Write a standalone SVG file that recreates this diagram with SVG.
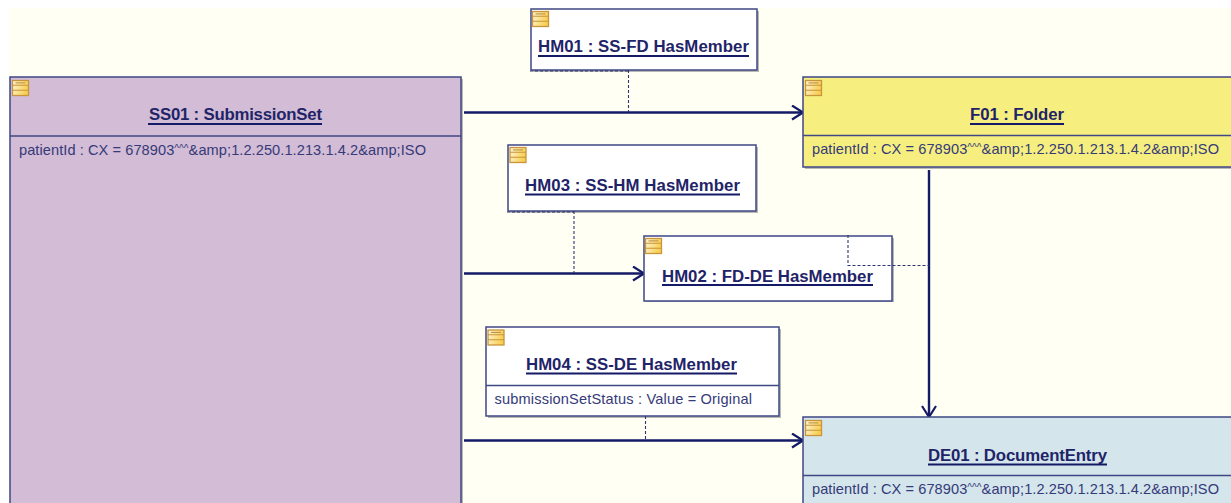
<svg xmlns="http://www.w3.org/2000/svg" width="1231" height="503" viewBox="0 0 1231 503">
<style>
.box{stroke:#3f4785;stroke-width:1.5}
.shadow{fill:#b9b9b4}
.div{stroke:#3f4785;stroke-width:1.3}
.t{font:bold 16.800px "Liberation Sans",Arial,sans-serif;fill:#1f2468;text-anchor:middle}
.a{font:14.600px "Liberation Sans",Arial,sans-serif;fill:#353a78}
.c{font-size:10px}
.u{stroke:#141a66;stroke-width:2}
.solid{fill:none;stroke:#141a66;stroke-width:2.4}
.dash{fill:none;stroke:#2e3573;stroke-width:1.1;stroke-dasharray:3 2}
</style>
<defs>
<marker id="arrow" viewBox="0 0 14 16" refX="13" refY="8" markerWidth="14" markerHeight="16" markerUnits="userSpaceOnUse" orient="auto">
<path d="M2 1L13 8L2 15" fill="none" stroke="#141a66" stroke-width="2.2"/>
</marker>
<linearGradient id="ig" x1="0" y1="0" x2="1" y2="0.3"><stop offset="0" stop-color="#fdf5d8"/><stop offset="1" stop-color="#f8cf50"/></linearGradient>
<g id="icon">
<rect x="0" y="0" width="16" height="15" fill="url(#ig)" stroke="#c8953c" stroke-width="1.3"/>
<path d="M0 4.800H16M0 9.800H16" stroke="#c8953c" stroke-width="1.1"/>
<path d="M3 2.400H13" stroke="#b98a3a" stroke-width="1"/>
</g>
</defs>
<rect width="1231" height="503" fill="#fff"/>
<rect x="9" y="8" width="1222" height="495" fill="#fffff3"/>

<g id="connectors">
<path class="solid" d="M464 112.500H803" marker-end="url(#arrow)"/>
<path class="solid" d="M464 273.500H644" marker-end="url(#arrow)"/>
<path class="solid" d="M464 440.500H803" marker-end="url(#arrow)"/>
<path class="solid" d="M929 170V417" marker-end="url(#arrow)"/>
</g>

<g id="SS01">
<rect class="shadow" x="12" y="79" width="451" height="426"/>
<rect class="box" x="10" y="77" width="451" height="428" fill="#d3bcd6"/>
<path class="div" d="M10 136H461"/>
<use href="#icon" x="12.500" y="80.500"/>
<text class="t" x="235.500" y="120" textLength="173">SS01 : SubmissionSet</text>
<path class="u" d="M148 124H322"/>
<text class="a" x="19" y="155" textLength="407">patientId : CX = 678903<tspan class="c" dy="-3">^^^</tspan><tspan dy="3">&amp;amp;1.2.250.1.213.1.4.2&amp;amp;ISO</tspan></text>
</g>

<g id="HM01">
<rect class="shadow" x="533" y="11" width="226" height="61"/>
<rect class="box" x="531" y="9" width="226" height="61" fill="#fff"/>
<use href="#icon" x="532.500" y="11.500"/>
<text class="t" x="643.500" y="52" textLength="211">HM01 : SS-FD HasMember</text>
<path class="u" d="M538 56H749"/>
</g>

<g id="F01">
<rect class="shadow" x="805" y="79" width="428" height="90"/>
<rect class="box" x="803" y="77" width="430" height="90" fill="#f6ef80"/>
<path class="div" d="M803 135.500H1231"/>
<use href="#icon" x="805.500" y="80.500"/>
<text class="t" x="1017" y="120" textLength="94">F01 : Folder</text>
<path class="u" d="M970 124H1064"/>
<text class="a" x="812" y="154" textLength="407">patientId : CX = 678903<tspan class="c" dy="-3">^^^</tspan><tspan dy="3">&amp;amp;1.2.250.1.213.1.4.2&amp;amp;ISO</tspan></text>
</g>

<g id="HM03">
<rect class="shadow" x="510" y="147" width="248" height="66"/>
<rect class="box" x="508" y="145" width="248" height="66" fill="#fff"/>
<use href="#icon" x="510" y="147.500"/>
<text class="t" x="632.500" y="191" textLength="215">HM03 : SS-HM HasMember</text>
<path class="u" d="M525 194.500H740"/>
</g>

<g id="HM02">
<rect class="shadow" x="646" y="238" width="248" height="64"/>
<rect class="box" x="644" y="236" width="248" height="65" fill="#fff"/>
<use href="#icon" x="645.500" y="238.500"/>
<text class="t" x="767.500" y="282" textLength="211">HM02 : FD-DE HasMember</text>
<path class="u" d="M662 285H873"/>
</g>

<g id="HM04">
<rect class="shadow" x="488" y="329" width="293" height="89"/>
<rect class="box" x="486" y="327" width="293" height="89" fill="#fff"/>
<path class="div" d="M486 385.500H779"/>
<use href="#icon" x="488" y="330"/>
<text class="t" x="631.500" y="370" textLength="211">HM04 : SS-DE HasMember</text>
<path class="u" d="M526 373.500H737"/>
<text class="a" x="494.500" y="404" textLength="257.500">submissionSetStatus : Value = Original</text>
</g>

<g id="DE01">
<rect class="box" x="803" y="417" width="430" height="88" fill="#d4e5ec"/>
<path class="div" d="M803 475.500H1231"/>
<use href="#icon" x="805.500" y="420.500"/>
<text class="t" x="1017.500" y="461" textLength="179">DE01 : DocumentEntry</text>
<path class="u" d="M928 464.500H1107"/>
<text class="a" x="812" y="494" textLength="407">patientId : CX = 678903<tspan class="c" dy="-3">^^^</tspan><tspan dy="3">&amp;amp;1.2.250.1.213.1.4.2&amp;amp;ISO</tspan></text>
</g>

<g id="dashed-connectors">
<path class="dash" d="M628.500 70V112"/>
<path class="dash" d="M574 211V273"/>
<path class="dash" d="M848 235V265.500H929"/>
<path class="dash" d="M645.500 416V440"/>
<path class="dash" d="M530 71H628M507 212H574"/>
</g>
</svg>
